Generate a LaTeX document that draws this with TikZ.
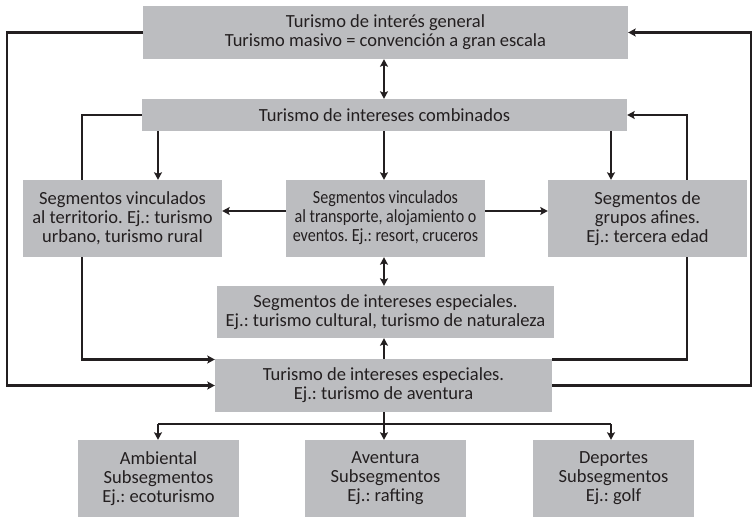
\documentclass[tikz,border=0pt]{standalone}
\usepackage{fontspec}
\usepackage{graphicx}
\setmainfont{Carlito}
\usetikzlibrary{arrows.meta}
\definecolor{boxgray}{RGB}{188,189,192}
\definecolor{ink}{RGB}{35,31,32}
\begin{document}
\frenchspacing
\begin{tikzpicture}[x=1pt,y=-1pt,
  box/.style={fill=boxgray, draw=none, align=center, inner sep=0pt, text=ink,
    font=\fontsize{18.5}{19}\selectfont},
  wide/.style={minimum width=485pt},
  seg/.style={minimum width=199pt, minimum height=77pt},
  mid/.style={minimum width=337pt, minimum height=53pt},
  sub/.style={minimum width=161pt, minimum height=77pt},
  conn/.style={draw=ink, line width=2.4pt},
  arr/.style={conn, -{Stealth[length=7.5pt,width=8pt,inset=1.5pt]}},
  darr/.style={conn, {Stealth[length=7.5pt,width=8pt,inset=1.5pt]}-{Stealth[length=7.5pt,width=8pt,inset=1.5pt]}}]
\useasboundingbox (0,0) rectangle (753,519);
% boxes
\node[box, wide, minimum height=53pt] (top) at (385.5,32.5) {Turismo de interés general\\Turismo masivo = convención a gran escala};
\node[box, wide, minimum height=32pt] (comb) at (384.5,115) {Turismo de intereses combinados};
\node[box, seg] (segL) at (122.5,218.5) {Segmentos vinculados\\al territorio. Ej.: turismo\\urbano, turismo rural};
\node[box, seg] (segM) at (385.5,218.5) {\scalebox{0.87}[1]{\begin{tabular}{@{}c@{}}Segmentos vinculados\\al transporte, alojamiento o\\eventos. Ej.: resort, cruceros\end{tabular}}};
\node[box, seg] (segR) at (647.5,218.5) {Segmentos de\\grupos afines.\\Ej.: tercera edad};
\node[box, mid, minimum height=52pt] (spec) at (385.5,312) {Segmentos de intereses especiales.\\Ej.: turismo cultural, turismo de naturaleza};
\node[box, mid] (tie) at (383.5,385.5) {Turismo de intereses especiales.\\Ej.: turismo de aventura};
\node[box, sub] (amb) at (158.5,478.5) {Ambiental\\Subsegmentos\\Ej.: ecoturismo};
\node[box, sub] (ave) at (385.5,478.5) {Aventura\\Subsegmentos\\Ej.: rafting};
\node[box, sub] (dep) at (613.5,478.5) {Deportes\\Subsegmentos\\Ej.: golf};
% helper coordinates
\coordinate (xL) at (7,0);
\coordinate (xR) at (751,0);
\coordinate (xl) at (82,0);
\coordinate (xr) at (687,0);
\coordinate (xa) at (158,0);
\coordinate (xc) at (384,0);
\coordinate (xb) at (611,0);
\coordinate (yh) at (0,211);
\coordinate (yt) at (0,359.5);
\coordinate (yb) at (0,424);
% outer loops
\draw[arr] (top.west) -- (top.west -| xL) -- (xL |- tie.west) -- (tie.west);
\draw[arr] (tie.east) -- (tie.east -| xR) -- (xR |- top.east) -- (top.east);
% top <-> combined
\draw[darr] (xc |- top.south) -- (xc |- comb.north);
% combined to segments
\draw[conn] (comb.west) -- (comb.west -| xl) -- (xl |- segL.north);
\draw[arr] (xa |- comb.south) -- (xa |- segL.north);
\draw[arr] (xc |- comb.south) -- (xc |- segM.north);
\draw[arr] (xb |- comb.south) -- (xb |- segR.north);
\draw[arr] (xr |- segR.north) -- (xr |- comb.east) -- (comb.east);
% middle to sides
\draw[arr] (segM.west |- yh) -- (segL.east |- yh);
\draw[arr] (segM.east |- yh) -- (segR.west |- yh);
% middle column
\draw[darr] (xc |- segM.south) -- (xc |- spec.north);
\draw[arr] (xc |- tie.north) -- (xc |- spec.south);
% sides to bottom box
\draw[arr] (xl |- segL.south) -- (xl |- yt) -- (tie.west |- yt);
\draw[conn] (xr |- segR.south) -- (xr |- yt) -- (tie.east |- yt);
% bottom tree
\draw[conn] (xc |- tie.south) -- (xc |- yb);
\draw[conn] (xa |- yb) -- (xb |- yb);
\draw[arr] (xa |- yb) -- (xa |- amb.north);
\draw[arr] (xc |- yb) -- (xc |- ave.north);
\draw[arr] (xb |- yb) -- (xb |- dep.north);
\end{tikzpicture}
\end{document}
